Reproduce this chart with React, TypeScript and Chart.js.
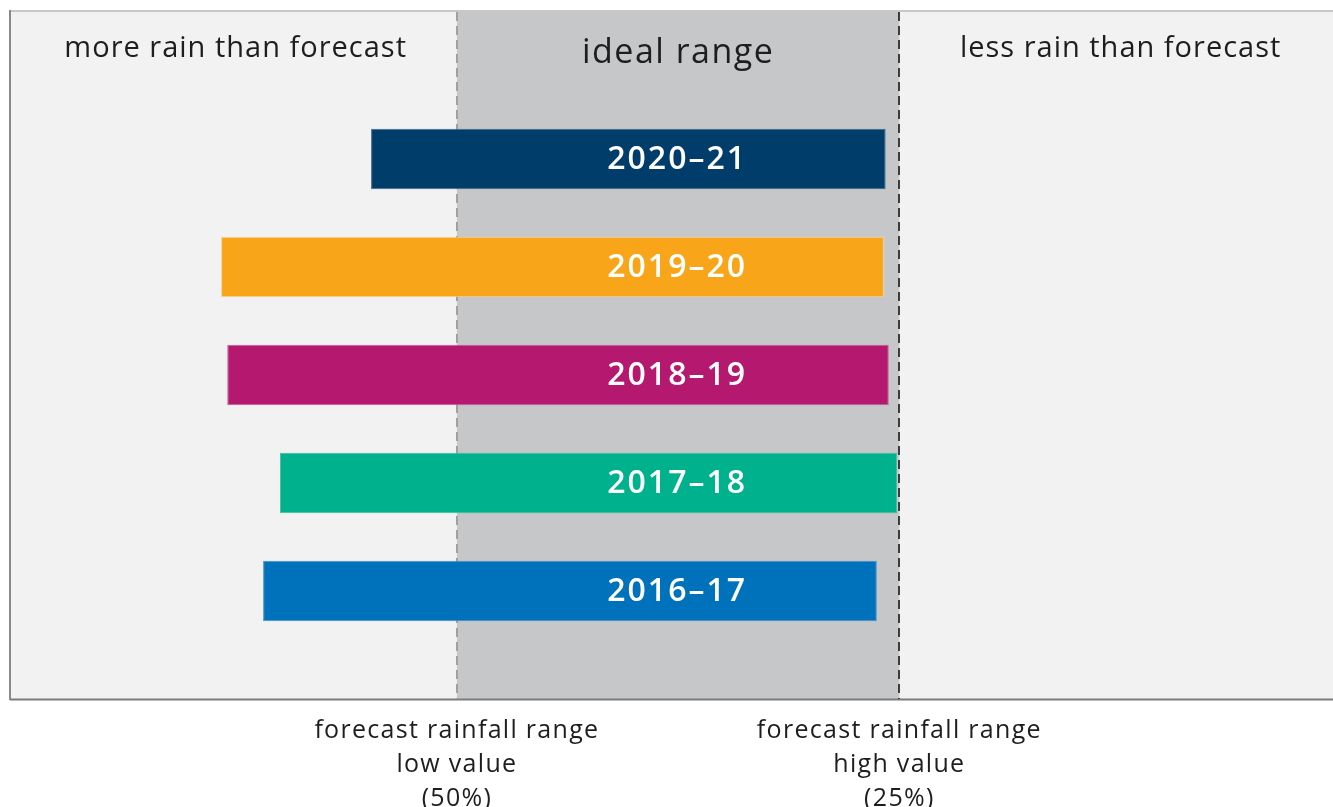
import { useEffect, useRef } from 'react';
import { Chart, registerables } from 'chart.js';

Chart.register(...registerables);

// Seasons, top to bottom, and where each season's rainfall sat relative to the
// forecast range (0 = low value of the range, 100 = high value of the range).
const seasons = ['2020–21', '2019–20', '2018–19', '2017–18', '2016–17'];
const rangeStart = [-19.4, -53.3, -51.9, -40.0, -43.8];
const rangeEnd = [96.9, 96.5, 97.6, 99.5, 94.9];
const seasonColours = ['#003d6b', '#f9a51a', '#b5186f', '#00b18d', '#0071bb'];
const seasonEdges = ['#46698c', '#f3d3a0', '#c95a9a', '#3fbf9f', '#4a90c6'];

// Zone headings and where they sit on the same scale.
const zoneLabels = ['more rain than forecast', 'ideal range', 'less rain than forecast'];
const zoneCentres = [-50, 50, 150];

// Edges of the forecast range and their captions.
const forecastBounds = [0, 100];
const boundLabels = [
  ['forecast rainfall range', 'low value', '(50%)'],
  ['forecast rainfall range', 'high value', '(25%)'],
];

const FONT = '"Open Sans", "Noto Sans", sans-serif';
const PANEL_TOP = 12;
const PANEL_BOTTOM = 699;

const rainfallPanel = {
  id: 'rainfallPanel',
  beforeDatasetsDraw(chart: any) {
    const { ctx, chartArea, scales } = chart;
    const x = scales.x;
    const lowPx = x.getPixelForValue(forecastBounds[0]);
    const highPx = x.getPixelForValue(forecastBounds[1]);
    ctx.save();

    // panel background and the ideal band
    ctx.fillStyle = '#f2f2f2';
    ctx.fillRect(chartArea.left, PANEL_TOP, chartArea.right - chartArea.left, PANEL_BOTTOM - PANEL_TOP);
    ctx.fillStyle = '#c6c7c9';
    ctx.fillRect(lowPx, PANEL_TOP, highPx - lowPx, PANEL_BOTTOM - PANEL_TOP);

    // frame
    ctx.lineWidth = 2;
    ctx.strokeStyle = '#c8c8c8';
    ctx.beginPath();
    ctx.moveTo(chartArea.left, PANEL_TOP - 1);
    ctx.lineTo(chartArea.right, PANEL_TOP - 1);
    ctx.stroke();
    ctx.strokeStyle = '#8a8a8a';
    ctx.beginPath();
    ctx.moveTo(chartArea.left, PANEL_TOP - 2);
    ctx.lineTo(chartArea.left, PANEL_BOTTOM + 1);
    ctx.stroke();
    ctx.strokeStyle = '#7d7d7d';
    ctx.beginPath();
    ctx.moveTo(chartArea.left, PANEL_BOTTOM + 0.5);
    ctx.lineTo(chartArea.right, PANEL_BOTTOM + 0.5);
    ctx.stroke();

    // dashed range edges
    const dashColours = ['#a0a0a0', '#3c3c3c'];
    ctx.setLineDash([9, 5]);
    forecastBounds.forEach((v, i) => {
      const px = Math.round(x.getPixelForValue(v));
      ctx.strokeStyle = dashColours[i];
      ctx.beginPath();
      ctx.moveTo(px, PANEL_TOP);
      ctx.lineTo(px, PANEL_BOTTOM);
      ctx.stroke();
    });
    ctx.setLineDash([]);

    // zone headings
    ctx.fillStyle = '#1e1e1e';
    ctx.textAlign = 'center';
    ctx.textBaseline = 'middle';
    zoneLabels.forEach((label, i) => {
      ctx.font = i === 1 ? `34px ${FONT}` : `29px ${FONT}`;
      ctx.letterSpacing = i === 1 ? '1.5px' : '1px';
      ctx.fillText(label, x.getPixelForValue(zoneCentres[i]), i === 1 ? 53 : 49);
    });

    // captions under the range edges
    ctx.font = `25px ${FONT}`;
    ctx.letterSpacing = '1.3px';
    boundLabels.forEach((lines, i) => {
      const px = x.getPixelForValue(forecastBounds[i]);
      lines.forEach((line, j) => {
        ctx.fillText(line, px, PANEL_BOTTOM + 32 + j * 34);
      });
    });
    ctx.letterSpacing = '0px';
    ctx.restore();
  },
  afterDatasetsDraw(chart: any) {
    const { ctx, scales } = chart;
    const midPx = scales.x.getPixelForValue((forecastBounds[0] + forecastBounds[1]) / 2);
    const bars = chart.getDatasetMeta(0).data;
    ctx.save();
    ctx.fillStyle = '#ffffff';
    ctx.font = `600 32px ${FONT}`;
    ctx.letterSpacing = '2px';
    ctx.textAlign = 'center';
    ctx.textBaseline = 'middle';
    bars.forEach((bar: any, i: number) => {
      ctx.fillText(seasons[i], midPx - 1, bar.y + 1);
    });
    ctx.letterSpacing = '0px';
    ctx.restore();
  },
};

export default function App() {
  const canvasRef = useRef<HTMLCanvasElement | null>(null);

  useEffect(() => {
    if (!canvasRef.current) return;
    const chart = new Chart(canvasRef.current, {
      type: 'bar',
      data: {
        labels: seasons,
        datasets: [
          {
            data: seasons.map((_, i) => [rangeStart[i], rangeEnd[i]]) as any,
            backgroundColor: seasonColours,
            borderColor: seasonEdges,
            borderWidth: 1,
            borderSkipped: false,
            barPercentage: 0.56,
            categoryPercentage: 1,
          },
        ],
      },
      options: {
        indexAxis: 'y',
        animation: false,
        responsive: true,
        maintainAspectRatio: false,
        layout: { padding: { left: 10, right: 0, top: 105, bottom: 162 } },
        plugins: { legend: { display: false }, tooltip: { enabled: false } },
        scales: {
          x: { type: 'linear', min: -101, max: 198, display: false },
          y: { display: false },
        },
      },
      plugins: [rainfallPanel],
    });
    return () => chart.destroy();
  }, []);

  return (
    <div style={{ position: 'absolute', left: 0, top: 0, width: 1333, height: 807, background: '#ffffff' }}>
      <canvas ref={canvasRef} />
    </div>
  );
}
